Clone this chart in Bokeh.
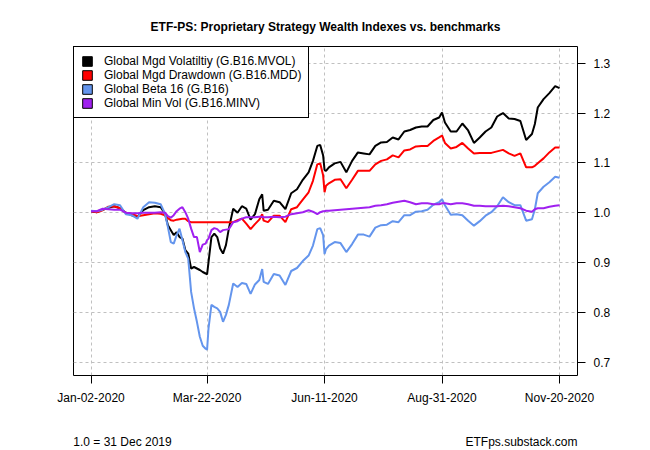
import pandas as pd
from bokeh.plotting import figure
from bokeh.models import (Range1d, FixedTicker, DatetimeTickFormatter, PrintfTickFormatter,
                          Legend, LegendItem, LinearAxis)
from bokeh.embed import file_html
from bokeh.resources import INLINE

dates = [
    "2020-01-02", "2020-01-06", "2020-01-10", "2020-01-14", "2020-01-18", "2020-01-22", "2020-01-26", "2020-01-30",
    "2020-02-03", "2020-02-07", "2020-02-11", "2020-02-15", "2020-02-19", "2020-02-22", "2020-02-24", "2020-02-26", "2020-02-28",
    "2020-03-01", "2020-03-03", "2020-03-05", "2020-03-07", "2020-03-09", "2020-03-11", "2020-03-13", "2020-03-15", "2020-03-17",
    "2020-03-19", "2020-03-21", "2020-03-22", "2020-03-23", "2020-03-25", "2020-03-27", "2020-03-29", "2020-03-31",
    "2020-04-02", "2020-04-04", "2020-04-06", "2020-04-09", "2020-04-12", "2020-04-15", "2020-04-18", "2020-04-21", "2020-04-24",
    "2020-04-27", "2020-04-29", "2020-04-30",
    "2020-05-03", "2020-05-07", "2020-05-11", "2020-05-15", "2020-05-19", "2020-05-23", "2020-05-27", "2020-05-31",
    "2020-06-03", "2020-06-06", "2020-06-08", "2020-06-10", "2020-06-11", "2020-06-12", "2020-06-14", "2020-06-18", "2020-06-22",
    "2020-06-26", "2020-06-30",
    "2020-07-04", "2020-07-08", "2020-07-12", "2020-07-16", "2020-07-20", "2020-07-24", "2020-07-28",
    "2020-08-01", "2020-08-05", "2020-08-09", "2020-08-13", "2020-08-17", "2020-08-21", "2020-08-25", "2020-08-29", "2020-08-31",
    "2020-09-02", "2020-09-06", "2020-09-10", "2020-09-14", "2020-09-18", "2020-09-22", "2020-09-26", "2020-09-30",
    "2020-10-04", "2020-10-08", "2020-10-12", "2020-10-16", "2020-10-20", "2020-10-24", "2020-10-28",
    "2020-11-01", "2020-11-03", "2020-11-05", "2020-11-09", "2020-11-13", "2020-11-17", "2020-11-20",
]

mvol = [
    1.003, 1.001, 1.006, 1.010, 1.013, 1.009, 1.000, 0.995,
    0.991, 1.005, 1.011, 1.013, 1.011, 0.998, 0.975, 0.965, 0.955,
    0.961, 0.951, 0.948, 0.925, 0.918, 0.888, 0.891, 0.888, 0.885, 0.881, 0.878, 0.876, 0.901, 0.951, 0.958, 0.951, 0.928,
    0.918, 0.935, 0.968, 1.008, 1.000, 1.013, 1.008, 0.986, 0.997, 1.027, 1.037, 1.004,
    1.006, 1.024, 1.021, 1.007, 1.039, 1.047, 1.066, 1.081,
    1.104, 1.134, 1.136, 1.115, 1.086, 1.084, 1.091, 1.099, 1.102, 1.081, 1.104,
    1.121, 1.119, 1.117, 1.134, 1.141, 1.142, 1.151,
    1.147, 1.163, 1.166, 1.171, 1.173, 1.173, 1.186, 1.191, 1.201,
    1.181, 1.163, 1.163, 1.179, 1.165, 1.140, 1.151, 1.163,
    1.171, 1.193, 1.200, 1.189, 1.188, 1.184, 1.146,
    1.158, 1.178, 1.211, 1.228, 1.240, 1.254, 1.250,
]

mdd = [
    1.003, 1.001, 1.005, 1.012, 1.013, 1.009, 1.000, 0.998,
    0.993, 0.995, 0.997, 0.999, 0.998, 0.995, 0.989, 0.985, 0.984,
    0.986, 0.987, 0.988, 0.988, 0.983, 0.981, 0.981, 0.981, 0.981, 0.981, 0.981, 0.981, 0.981, 0.981, 0.981, 0.981, 0.981,
    0.981, 0.981, 0.981, 0.981, 0.985, 0.988, 0.978, 0.967, 0.977, 0.986, 0.997, 0.984,
    0.981, 0.994, 0.994, 0.981, 1.007, 1.011, 1.026, 1.041,
    1.064, 1.097, 1.099, 1.075, 1.041, 1.054, 1.059, 1.066, 1.067, 1.049, 1.066,
    1.084, 1.084, 1.084, 1.097, 1.104, 1.107, 1.115,
    1.111, 1.125, 1.127, 1.133, 1.134, 1.134, 1.144, 1.151, 1.155,
    1.140, 1.129, 1.132, 1.140, 1.129, 1.119, 1.120, 1.120,
    1.120, 1.123, 1.126, 1.119, 1.114, 1.119, 1.091,
    1.091, 1.094, 1.099, 1.109, 1.121, 1.131, 1.131,
]

b16 = [
    1.004, 1.003, 1.006, 1.011, 1.017, 1.015, 0.997, 0.995,
    0.988, 1.011, 1.021, 1.020, 1.017, 0.998, 0.971, 0.941, 0.938,
    0.955, 0.968, 0.945, 0.921, 0.908, 0.841, 0.808, 0.781, 0.751, 0.733, 0.727, 0.725, 0.768, 0.815, 0.811, 0.808, 0.801,
    0.781, 0.795, 0.815, 0.858, 0.851, 0.859, 0.857, 0.837, 0.856, 0.865, 0.887, 0.861,
    0.857, 0.877, 0.874, 0.855, 0.883, 0.889, 0.903, 0.914,
    0.934, 0.967, 0.969, 0.955, 0.917, 0.927, 0.934, 0.941, 0.939, 0.921, 0.937,
    0.956, 0.956, 0.952, 0.970, 0.975, 0.976, 0.983,
    0.981, 0.995, 0.995, 1.002, 1.003, 1.006, 1.016, 1.021, 1.027,
    1.015, 0.996, 0.997, 0.995, 0.984, 0.974, 0.983, 0.994,
    1.001, 1.013, 1.031, 1.021, 1.015, 1.015, 0.984,
    0.987, 1.007, 1.039, 1.052, 1.061, 1.072, 1.070,
]

minv = [
    1.003, 1.003, 1.008, 1.007, 1.006, 1.006, 1.000, 0.999,
    0.999, 1.000, 1.000, 1.000, 1.001, 1.000, 0.993, 0.990, 0.995,
    1.003, 1.008, 1.011, 1.001, 0.988, 0.968, 0.951, 0.951, 0.921, 0.936, 0.938, 0.945, 0.948, 0.965, 0.969, 0.967, 0.961,
    0.965, 0.966, 0.967, 0.981, 0.983, 0.988, 0.991, 0.991, 0.991, 0.992, 0.992, 0.991,
    0.991, 0.992, 0.991, 0.992, 0.997, 0.999, 1.001, 1.005,
    1.002, 0.997, 1.001, 1.003, 1.003, 1.004, 1.004, 1.005, 1.006, 1.007, 1.008,
    1.009, 1.010, 1.011, 1.014, 1.015, 1.017, 1.020,
    1.022, 1.024, 1.021, 1.017, 1.019, 1.019, 1.017, 1.017, 1.019,
    1.019, 1.017, 1.019, 1.019, 1.017, 1.014, 1.014, 1.013,
    1.013, 1.013, 1.014, 1.013, 1.011, 1.009, 1.004,
    1.002, 1.007, 1.009, 1.009, 1.012, 1.014, 1.015,
]

series_names = [
    "Global Mgd Volatiltiy (G.B16.MVOL)",
    "Global Mgd Drawdown (G.B16.MDD)",
    "Global Beta 16 (G.B16)",
    "Global Min Vol (G.B16.MINV)",
]
series_colors = ["#000000", "#ff0000", "#6495ed", "#a020f0"]
x_tick_dates = ["2020-01-02", "2020-03-22", "2020-06-11", "2020-08-31", "2020-11-20"]
y_ticks = [0.7, 0.8, 0.9, 1.0, 1.1, 1.2, 1.3]
title_text = "ETF-PS: Proprietary Strategy Wealth Indexes vs. benchmarks"
note_left = "1.0 = 31 Dec 2019"
note_right = "ETFps.substack.com"

FONT = "Liberation Sans"
NAN = float("nan")
FRAME_W, FRAME_H = 504, 329

dt = pd.to_datetime(dates)
x_start = pd.Timestamp(x_tick_dates[0]) - pd.Timedelta(days=12.1)
x_end = pd.Timestamp(x_tick_dates[-1]) + pd.Timedelta(days=12.4)

p = figure(frame_width=FRAME_W, frame_height=FRAME_H, x_axis_type="datetime", y_axis_location="right",
           x_range=Range1d(x_start, x_end), y_range=Range1d(0.6733, 1.3335),
           output_backend="svg", toolbar_location=None,
           min_border_left=73, min_border_right=71, min_border_top=46, min_border_bottom=73,
           background_fill_color="white", border_fill_color="white")

p.title.text = title_text
p.title.align = "center"
p.title.text_font = FONT
p.title.text_font_size = "12px"
p.title.text_font_style = "bold"
p.title.text_color = "black"
p.title.standoff = 26

p.outline_line_color = "black"
p.outline_line_width = 1
p.outline_line_alpha = 1.0

xt = FixedTicker(ticks=[pd.Timestamp(d).value / 1e6 for d in x_tick_dates])
yt = FixedTicker(ticks=y_ticks)
p.xaxis.ticker = xt
p.yaxis.ticker = yt
p.xgrid.ticker = xt
p.ygrid.ticker = yt
fmt = "%b-%d-%Y"
p.xaxis.formatter = DatetimeTickFormatter(days=fmt, months=fmt, years=fmt, hours=fmt,
                                          minutes=fmt, seconds=fmt, milliseconds=fmt,
                                          microseconds=fmt, hourmin=fmt, minsec=fmt)
p.yaxis.formatter = PrintfTickFormatter(format="%.1f")

for ax in (p.xaxis[0], p.yaxis[0]):
    ax.axis_line_color = None
    ax.major_tick_out = 8
    ax.major_tick_in = 0
    ax.major_tick_line_color = "black"
    ax.minor_tick_line_color = None
    ax.major_label_text_font = FONT
    ax.major_label_text_font_size = "12px"
    ax.major_label_text_color = "black"
p.xaxis.major_label_standoff = 7
p.yaxis.major_label_standoff = 8

for g in (p.xgrid[0], p.ygrid[0]):
    g.grid_line_color = "#c0c0c0"
    g.grid_line_dash = "3 3"
    g.grid_line_width = 1

for vals, c in zip([mvol, mdd, b16, minv], series_colors):
    p.line(dt, vals, line_color=c, line_width=2)

# legend swatches: renderers holding one non-drawable (NaN) entry
proxies = [p.quad(left=[NAN], right=[NAN], top=[NAN], bottom=[NAN],
                  fill_color=c, line_color="black", line_width=1)
           for c in series_colors]
legend = Legend(items=[LegendItem(label=n, renderers=[r]) for n, r in zip(series_names, proxies)],
                location="top_left", margin=0, padding=7, spacing=0,
                glyph_width=12, glyph_height=12, label_height=12, label_standoff=11,
                label_text_font=FONT, label_text_font_size="12px", label_text_color="black",
                border_line_color="black", border_line_width=1, border_line_alpha=1.0,
                background_fill_color="white", background_fill_alpha=1.0)
p.add_layout(legend)

# bottom notes: a tick-less axis on a pixel-like range spanning the frame width
p.extra_x_ranges = {"notes": Range1d(0, FRAME_W)}
note_pos = [49, 448]
notes_axis = LinearAxis(x_range_name="notes", ticker=FixedTicker(ticks=note_pos),
                        major_label_overrides={note_pos[0]: note_left, note_pos[1]: note_right},
                        axis_line_color=None, major_tick_line_color=None, minor_tick_line_color=None,
                        major_tick_out=0, major_tick_in=0, major_label_standoff=27,
                        major_label_text_font=FONT, major_label_text_font_size="12px",
                        major_label_text_color="black")
p.add_layout(notes_axis, "below")

open("out.html", "w").write(file_html(p, INLINE))
